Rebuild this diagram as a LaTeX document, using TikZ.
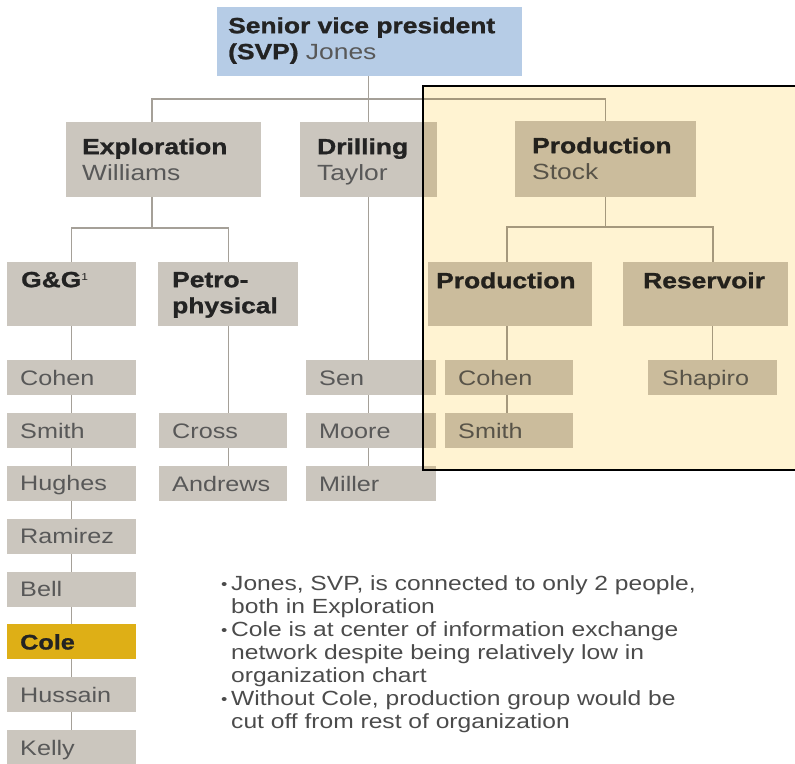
\documentclass[tikz,border=0pt]{standalone}
\usepackage{fontspec}
\setmainfont[FakeStretch=1.2, BoldFeatures={FakeBold=1.2}]{Liberation Sans}
\usepackage{xcolor}
\usetikzlibrary{positioning, calc, backgrounds}

\definecolor{boxgray}{RGB}{203,198,190}
\definecolor{svpblue}{RGB}{182,204,230}
\definecolor{colegold}{RGB}{222,175,22}
\definecolor{panelyellow}{RGB}{255,243,210}
\definecolor{linegray}{RGB}{165,160,152}
\definecolor{namegray}{RGB}{88,88,88}
\definecolor{headdark}{RGB}{35,35,35}
\newcommand{\who}[1]{\textcolor{namegray}{\mdseries #1}}
\newcommand{\bul}{\makebox[10pt][l]{\raisebox{1pt}{\fontsize{15}{15}\selectfont\textbullet}}}

\begin{document}
\begin{tikzpicture}[x=1pt, y=-1pt,
        unit/.style n args={3}{fill=boxgray, anchor=north west, inner xsep=14pt, inner ysep=0pt,
            align=left, text width={#1-28pt}, text height=#2, text depth=#3,
            font=\fontsize{22}{26}\selectfont\bfseries, text=headdark},
        person/.style={unit={#1}{25pt}{10pt}, inner xsep=13pt, text width={#1-26pt},
            font=\fontsize{21}{26}\selectfont, text=namegray},
        link/.style={draw=linegray, line width=1.1pt}
    ]
        \useasboundingbox (0,0) rectangle (795,763);

        % Top of the chart
        \node[unit={305pt}{26pt}{43pt}, fill=svpblue, inner xsep=11pt, text width=283pt] (svp) at (217,7)
            {Senior vice president\\(SVP) \who{Jones}};

        % Departments
        \node[unit={195pt}{32pt}{43pt}, inner xsep=16pt, text width=163pt] (expl) at (66,122)
            {Exploration\\\who{Williams}};
        \node[unit={137pt}{32pt}{43pt}, inner xsep=17pt, text width=103pt] (drill) at (300,122)
            {Drilling\\\who{Taylor}};
        \node[unit={181pt}{32pt}{44pt}, inner xsep=17pt, text width=147pt] (prod) at (515,121)
            {Production\\\who{Stock}};

        % Groups
        \node[unit={129pt}{25pt}{39pt}] (gg) at (7,262)
            {G\&G\raisebox{7pt}{\fontsize{10}{10}\selectfont\mdseries 1}};
        \node[unit={140pt}{25pt}{39pt}] (petro) at (158,262) {Petro-\\physical};
        \node[unit={164pt}{26pt}{38pt}, inner xsep=8pt, text width=148pt] (prodop) at (428,262) {Production};
        \node[unit={165pt}{26pt}{38pt}, inner xsep=20pt, text width=125pt] (resv) at (623,262) {Reservoir};

        % G&G people
        \foreach \name/\i/\fc in {Cohen/0/boxgray, Smith/1/boxgray, Hughes/2/boxgray,
                Ramirez/3/boxgray, Bell/4/boxgray, {\textcolor{headdark}{\bfseries Cole}}/5/colegold,
                Hussain/6/boxgray, Kelly/7/boxgray} {
            \node[person=129pt, fill=\fc] (g\i) at (7, 360+52.85*\i) {\name};
        }

        % Petrophysical people
        \node[person=128pt] (cross) at (159,413) {Cross};
        \node[person=128pt] (andrews) at (159,466) {Andrews};

        % Drilling people
        \node[person=130pt] (sen) at (306,360) {Sen};
        \node[person=130pt] (moore) at (306,413) {Moore};
        \node[person=130pt] (miller) at (306,466) {Miller};

        % Production people
        \node[person=128pt] (pcohen) at (445,360) {Cohen};
        \node[person=128pt] (psmith) at (445,413) {Smith};
        \node[person=129pt, inner xsep=14pt, text width=101pt] (shapiro) at (648,360) {Shapiro};

        % Connectors
        \begin{scope}[on background layer]
            \draw[link] (drill.north |- svp.south) -- (drill.north);
            \draw[link] ([xshift=86pt]expl.north west) -- ([xshift=86pt, yshift=23pt]expl.north west) -| (prod.north);
            \draw[link] ([xshift=86pt]expl.south west) -- ([xshift=86pt, yshift=-31pt]expl.south west);
            \draw[link] (gg.north) |- ([yshift=34pt]petro.north) -- (petro.north);
            \draw[link] (gg.south) -- (gg.south |- g7.north);
            \draw[link] (petro.south) -- (petro.south |- andrews.north);
            \draw[link] (drill.south) -- (drill.south |- miller.north);
            \draw[link] (prod.south) -- ([yshift=-30pt]prod.south);
            \draw[link] ([xshift=79pt]prodop.north west) |- ([xshift=90pt, yshift=35pt]resv.north west)
                -- ([xshift=90pt]resv.north west);
            \draw[link] ([xshift=79pt]prodop.south west) -- ([xshift=62pt]psmith.north west);
            \draw[link] (shapiro.north |- resv.south) -- (shapiro.north);
        \end{scope}

        % Production highlight
        \fill[panelyellow, blend mode=multiply] (423,86) rectangle (800,470);
        \draw[line width=1.6pt] (800,86) -- (423,86) -- (423,470) -- (800,470);

        % Notes
        \node[anchor=base west, inner sep=0pt, text width=560pt, align=left,
            font=\fontsize{20.5}{23}\selectfont, text=namegray!85!black] (notes) at (221,590) {
            \bul Jones, SVP, is connected to only 2 people,\\
            \hspace*{10pt}both in Exploration\\
            \bul Cole is at center of information exchange\\
            \hspace*{10pt}network despite being relatively low in\\
            \hspace*{10pt}organization chart\\
            \bul Without Cole, production group would be\\
            \hspace*{10pt}cut off from rest of organization
        };
    \end{tikzpicture}
\end{document}
